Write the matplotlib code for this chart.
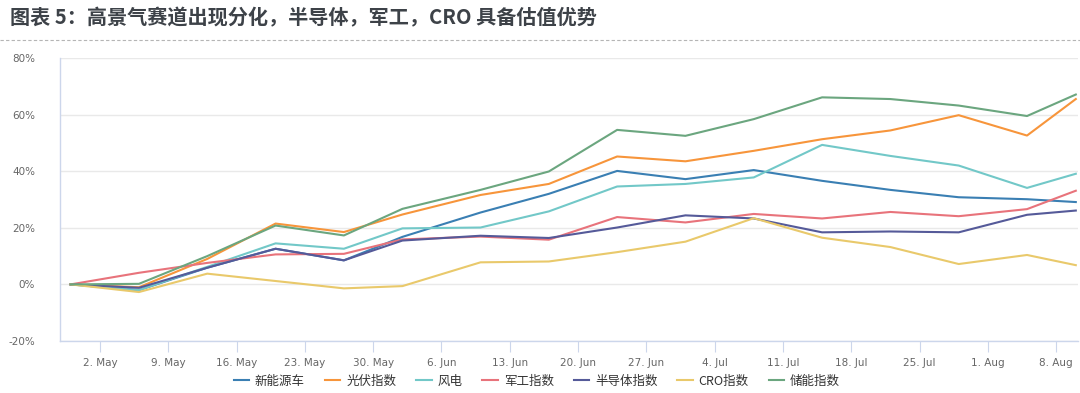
import numpy as np
import pandas as pd
import matplotlib
matplotlib.use('Agg')
import matplotlib.pyplot as plt
from matplotlib.lines import Line2D

plt.rcParams['font.family'] = ['Noto Sans CJK SC', 'DejaVu Sans']

dates = ['2022-04-29', '2022-05-06', '2022-05-13', '2022-05-20', '2022-05-27',
         '2022-06-02', '2022-06-10', '2022-06-17', '2022-06-24', '2022-07-01',
         '2022-07-08', '2022-07-15', '2022-07-22', '2022-07-29', '2022-08-05',
         '2022-08-10']

nev = [0, -2.0, 5.9, 12.6, 8.5, 16.8, 25.4, 32.0, 40.1, 37.2, 40.4, 36.6, 33.4, 30.8, 30.1, 29.1]
pv = [0, -1.0, 9.0, 21.5, 18.5, 24.7, 31.6, 35.5, 45.2, 43.5, 47.2, 51.3, 54.4, 59.8, 52.6, 65.5]
wind = [0, -2.0, 6.2, 14.5, 12.6, 19.8, 20.1, 25.8, 34.6, 35.5, 37.8, 49.3, 45.4, 42.0, 34.1, 39.1]
military = [0, 4.1, 7.6, 10.6, 10.8, 15.9, 16.9, 15.8, 23.8, 21.9, 24.9, 23.3, 25.6, 24.1, 26.6, 33.1]
semi = [0, -1.2, 5.9, 12.6, 8.5, 15.5, 17.2, 16.4, 20.1, 24.4, 23.3, 18.4, 18.7, 18.4, 24.6, 26.1]
cro = [0, -2.7, 3.8, 1.2, -1.4, -0.6, 7.8, 8.1, 11.4, 15.1, 23.4, 16.5, 13.2, 7.2, 10.4, 6.8]
storage = [0, 0.2, 10.0, 20.8, 17.3, 26.7, 33.4, 39.9, 54.6, 52.5, 58.4, 66.1, 65.5, 63.2, 59.5, 67.1]

series_names = ['新能源车', '光伏指数', '风电', '军工指数', '半导体指数', 'CRO指数', '储能指数']
series_values = [nev, pv, wind, military, semi, cro, storage]
colors = ['#3a7fb3', '#f7953b', '#72c8c8', '#e8737b', '#555a99', '#e9c96b', '#6ba67f']

tick_dates = ['2022-05-02', '2022-05-09', '2022-05-16', '2022-05-23', '2022-05-30',
              '2022-06-06', '2022-06-13', '2022-06-20', '2022-06-27', '2022-07-04',
              '2022-07-11', '2022-07-18', '2022-07-25', '2022-08-01', '2022-08-08']
tick_labels = ['2. May', '9. May', '16. May', '23. May', '30. May', '6. Jun', '13. Jun',
               '20. Jun', '27. Jun', '4. Jul', '11. Jul', '18. Jul', '25. Jul', '1. Aug', '8. Aug']
y_ticks = [-20, 0, 20, 40, 60, 80]


def main():
    x = pd.to_datetime(dates)
    fig = plt.figure(figsize=(10.8, 3.93), dpi=100)

    # title and dashed separator
    fig.text(0.009, 0.955, '图表 5：高景气赛道出现分化，半导体，军工，CRO 具备估值优势',
             fontsize=14.5, fontweight='bold', color='#3d4248', va='center', ha='left')
    fig.add_artist(Line2D([0, 1], [0.898, 0.898], transform=fig.transFigure,
                          color='#b5b5b5', lw=0.8, ls=(0, (3, 2))))

    ax = fig.add_axes([0.0556, 0.1323, 0.9424, 0.7201])
    for name, vals, c in zip(series_names, series_values, colors):
        ax.plot(x, vals, color=c, lw=1.5, label=name, solid_joinstyle='round')

    ax.set_ylim(-20, 80)
    ax.set_yticks(y_ticks)
    ax.set_yticklabels([f'{v}%' for v in y_ticks], fontsize=7.5, color='#666666',
                       family='DejaVu Sans')
    ax.yaxis.grid(True, color='#e9e9e9', lw=1)
    ax.tick_params(axis='y', length=0, pad=18)

    ax.set_xlim(pd.Timestamp('2022-04-27 22:00'), pd.Timestamp('2022-08-10 05:00'))
    ax.set_xticks(pd.to_datetime(tick_dates))
    ax.set_xticklabels(tick_labels, fontsize=7.5, color='#666666', family='DejaVu Sans')
    ax.tick_params(axis='x', length=8, color='#ccd6eb', pad=4)

    for side in ['top', 'right']:
        ax.spines[side].set_visible(False)
    for side in ['left', 'bottom']:
        ax.spines[side].set_color('#ccd6eb')
        ax.spines[side].set_linewidth(1)
    ax.set_axisbelow(True)

    fig.legend(loc='center', bbox_to_anchor=(0.497, 0.03), ncol=7, frameon=False,
               fontsize=9, handlelength=1.25, handletextpad=0.45, columnspacing=1.6,
               labelcolor='#333333')

    fig.savefig('out.png', dpi=100)


if __name__ == '__main__':
    main()
